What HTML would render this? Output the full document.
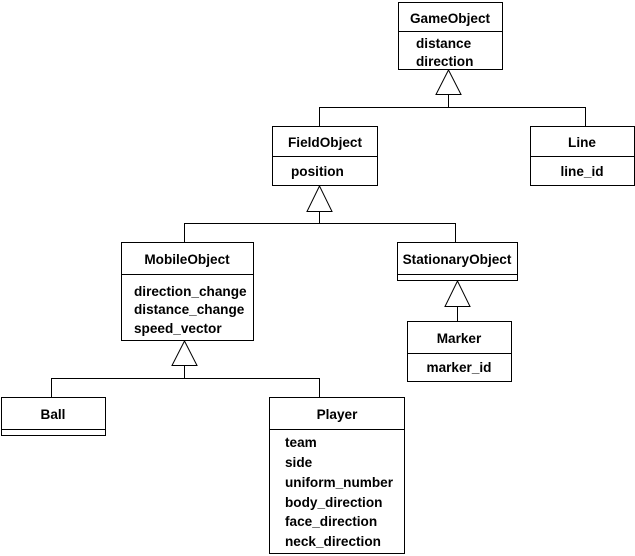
<!DOCTYPE html>
<html><head><style>body{margin:0;background:#fff}svg{display:block}text{font-family:"Liberation Sans",Arial,sans-serif;font-size:13.6px;font-weight:bold;fill:#000}</style></head>
<body>
<svg width="635" height="556" viewBox="0 0 635 556" xmlns="http://www.w3.org/2000/svg">
<g fill="none" stroke="#000" stroke-width="1" shape-rendering="crispEdges">
<rect x="398.5" y="2.5" width="104" height="67"/><line x1="398" y1="31.5" x2="503" y2="31.5"/>
<rect x="272.5" y="126.5" width="105" height="59"/><line x1="272" y1="156.5" x2="378" y2="156.5"/>
<rect x="530.5" y="126.5" width="104" height="59"/><line x1="530" y1="156.5" x2="635" y2="156.5"/>
<rect x="121.5" y="242.5" width="132" height="98"/><line x1="121" y1="274.5" x2="254" y2="274.5"/>
<rect x="397.5" y="242.5" width="120" height="38"/><line x1="397" y1="274.5" x2="518" y2="274.5"/>
<rect x="407.5" y="321.5" width="104" height="60"/><line x1="407" y1="353.5" x2="512" y2="353.5"/>
<rect x="1.5" y="397.5" width="104" height="38"/><line x1="1" y1="429.5" x2="106" y2="429.5"/>
<rect x="269.5" y="397.5" width="135" height="156"/><line x1="269" y1="429.5" x2="405" y2="429.5"/>
<polyline points="448.5,107.5 448.5,94.5"/><polyline points="319.5,126 319.5,107.5 585.5,107.5 585.5,126"/>
<polyline points="319.5,223.5 319.5,211.5"/><polyline points="184.5,242 184.5,223.5 455.5,223.5 455.5,242"/>
<polyline points="457.5,321 457.5,306.5"/>
<polyline points="184.5,378.5 184.5,365.5"/><polyline points="51.5,397 51.5,378.5 319.5,378.5 319.5,397"/>
</g>
<g fill="#fff" stroke="#000" stroke-width="1">
<polygon points="448.5,70 436,94.5 461,94.5"/>
<polygon points="319.5,186 307,211.5 332,211.5"/>
<polygon points="457.5,281 445,306.5 470,306.5"/>
<polygon points="184.5,341 172,365.5 197,365.5"/>
</g>
<text x="450" y="23" text-anchor="middle">GameObject</text>
<text x="416" y="48">distance</text><text x="416" y="66">direction</text>
<text x="325" y="147" text-anchor="middle">FieldObject</text>
<text x="291" y="176">position</text>
<text x="582" y="147" text-anchor="middle">Line</text>
<text x="582" y="176" text-anchor="middle">line_id</text>
<text x="187" y="264" text-anchor="middle">MobileObject</text>
<text x="134" y="296">direction_change</text><text x="134" y="314">distance_change</text><text x="134" y="333">speed_vector</text>
<text x="457" y="264" text-anchor="middle">StationaryObject</text>
<text x="459" y="343" text-anchor="middle">Marker</text>
<text x="459" y="372" text-anchor="middle">marker_id</text>
<text x="53" y="419" text-anchor="middle">Ball</text>
<text x="337" y="419" text-anchor="middle">Player</text>
<text x="285" y="447">team</text><text x="285" y="467">side</text><text x="285" y="487">uniform_number</text><text x="285" y="507">body_direction</text><text x="285" y="526">face_direction</text><text x="285" y="546">neck_direction</text>
</svg>
</body></html>
